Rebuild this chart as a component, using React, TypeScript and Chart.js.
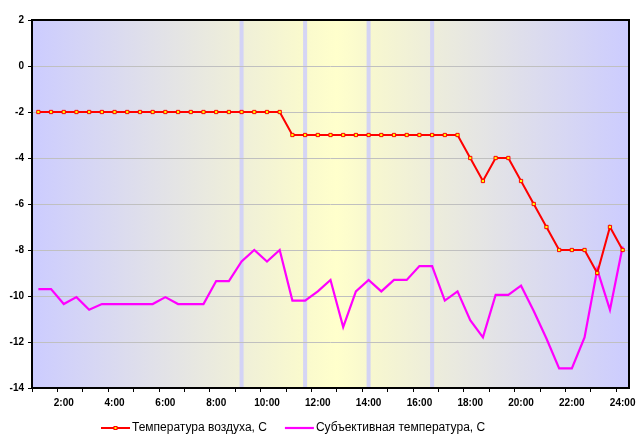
import { useEffect, useRef } from 'react';
import { Chart, registerables } from 'chart.js';

Chart.register(...registerables);

const categories = [
  '1:00', '1:30', '2:00', '2:30', '3:00', '3:30', '4:00', '4:30', '5:00', '5:30',
  '6:00', '6:30', '7:00', '7:30', '8:00', '8:30', '9:00', '9:30', '10:00', '10:30',
  '11:00', '11:30', '12:00', '12:30', '13:00', '13:30', '14:00', '14:30', '15:00', '15:30',
  '16:00', '16:30', '17:00', '17:30', '18:00', '18:30', '19:00', '19:30', '20:00', '20:30',
  '21:00', '21:30', '22:00', '22:30', '23:00', '23:30', '24:00',
];

const airTemp = [
  -2, -2, -2, -2, -2, -2, -2, -2, -2, -2,
  -2, -2, -2, -2, -2, -2, -2, -2, -2, -2,
  -3, -3, -3, -3, -3, -3, -3, -3, -3, -3,
  -3, -3, -3, -3, -4, -5, -4, -4, -5, -6,
  -7, -8, -8, -8, -9, -7, -8,
];

const feltTemp = [
  -9.7, -9.7, -10.35, -10.05, -10.6, -10.35, -10.35, -10.35, -10.35, -10.35,
  -10.05, -10.35, -10.35, -10.35, -9.35, -9.35, -8.5, -8.0, -8.5, -8.0,
  -10.2, -10.2, -9.8, -9.3, -11.35, -9.8, -9.3, -9.8, -9.3, -9.3,
  -8.7, -8.7, -10.2, -9.8, -11.05, -11.8, -9.95, -9.95, -9.55, -10.65,
  -11.85, -13.15, -13.15, -11.8, -8.85, -10.6, -7.85,
];

const seriesNames = ['Температура воздуха, С', 'Субъективная температура, С'];

const yMin = -14;
const yMax = 2;
const yStep = 2;

// category indices of the light vertical bands in the plot background
const bandIndices = [16, 21, 26, 31];

const FONT = '"Liberation Sans", Arial, sans-serif';

const decorPlugin = {
  id: 'decor',
  beforeDraw(chart: any) {
    const { ctx, chartArea: a, scales } = chart;
    const xs = scales.x;
    const p1 = (xs.getPixelForValue(bandIndices[1]) - a.left) / a.width;
    const p2 = (xs.getPixelForValue(bandIndices[2]) - a.left) / a.width;
    const g = ctx.createLinearGradient(a.left, 0, a.right, 0);
    g.addColorStop(0, '#ccccff');
    g.addColorStop(p1, '#fafacd');
    g.addColorStop((p1 + p2) / 2, '#ffffcc');
    g.addColorStop(p2, '#f8f8cf');
    g.addColorStop(1, '#ccccff');
    ctx.save();
    ctx.fillStyle = g;
    ctx.fillRect(a.left, a.top, a.width, a.height);
    ctx.fillStyle = 'rgba(206,206,250,0.85)';
    for (const i of bandIndices) {
      const px = xs.getPixelForValue(i);
      ctx.fillRect(px - 2, a.top, 4, a.height);
    }
    ctx.restore();
  },
  afterDraw(chart: any) {
    const { ctx, chartArea: a } = chart;
    ctx.save();
    // plot border
    ctx.strokeStyle = '#000';
    ctx.lineWidth = 2;
    ctx.strokeRect(a.left, a.top, a.right - a.left, a.bottom - a.top);

    // legend
    ctx.font = `12px ${FONT}`;
    ctx.textBaseline = 'middle';
    ctx.textAlign = 'left';
    let x = a.left + 69;
    const y = 428;
    chart.data.datasets.forEach((ds: any) => {
      ctx.strokeStyle = ds.borderColor;
      ctx.lineWidth = ds.borderWidth;
      ctx.beginPath();
      ctx.moveTo(x, y);
      ctx.lineTo(x + 29, y);
      ctx.stroke();
      if (ds.pointRadius > 0) {
        ctx.fillStyle = ds.pointBackgroundColor;
        ctx.strokeStyle = ds.pointBorderColor;
        ctx.lineWidth = 1;
        ctx.fillRect(x + 13, y - 1.5, 3, 3);
        ctx.strokeRect(x + 13, y - 1.5, 3, 3);
      }
      ctx.fillStyle = '#000';
      ctx.fillText(ds.label, x + 31, y);
      x += 31 + ctx.measureText(ds.label).width + 18;
    });
    ctx.restore();
  },
};

export default function App() {
  const ref = useRef<HTMLCanvasElement | null>(null);

  useEffect(() => {
    document.body.style.margin = '0';
    const canvas = ref.current;
    if (!canvas) return;
    const chart = new Chart(canvas, {
      type: 'line',
      data: {
        labels: categories,
        datasets: [
          {
            label: seriesNames[0],
            data: airTemp,
            borderColor: '#ff0000',
            borderWidth: 2,
            pointStyle: 'rect',
            pointRadius: 2.3,
            pointBackgroundColor: '#ffff00',
            pointBorderColor: '#ff0000',
            pointBorderWidth: 1,
            tension: 0,
          },
          {
            label: seriesNames[1],
            data: feltTemp,
            borderColor: '#ff00ff',
            borderWidth: 2.2,
            pointRadius: 0,
            tension: 0,
          },
        ],
      },
      options: {
        responsive: false,
        animation: false,
        layout: { padding: { top: 20, right: 12, bottom: 33, left: 0 } },
        plugins: {
          legend: { display: false },
          tooltip: { enabled: false },
          title: { display: false },
        },
        scales: {
          x: {
            type: 'category',
            offset: true,
            border: { display: false },
            grid: {
              offset: true,
              drawOnChartArea: false,
              tickLength: 4,
              tickColor: (c: any) => (c.index % 2 === 0 ? '#000' : 'rgba(0,0,0,0)'),
            },
            ticks: {
              autoSkip: false,
              maxRotation: 0,
              minRotation: 0,
              padding: 5,
              color: '#000',
              font: { family: FONT, size: 10, weight: 'bold' },
              callback: (_v: any, i: number) => (i % 4 === 2 ? categories[i] : ''),
            },
            afterFit: (s: any) => {
              s.height = 24;
            },
          },
          y: {
            min: yMin,
            max: yMax,
            border: { display: false },
            grid: {
              color: (c: any) =>
                c.tick && (c.tick.value === yMin || c.tick.value === yMax)
                  ? 'rgba(0,0,0,0)'
                  : '#c0c0c0',
              tickColor: '#000',
              tickLength: 4,
              lineWidth: 1,
            },
            ticks: {
              stepSize: yStep,
              padding: 4,
              color: '#000',
              font: { family: FONT, size: 10, weight: 'bold' },
            },
            afterFit: (s: any) => {
              s.width = 32;
            },
          },
        },
      },
      plugins: [decorPlugin],
    } as any);
    return () => chart.destroy();
  }, []);

  return (
    <canvas
      ref={ref}
      width={641}
      height={445}
      style={{ display: 'block', width: 641, height: 445 }}
    />
  );
}
